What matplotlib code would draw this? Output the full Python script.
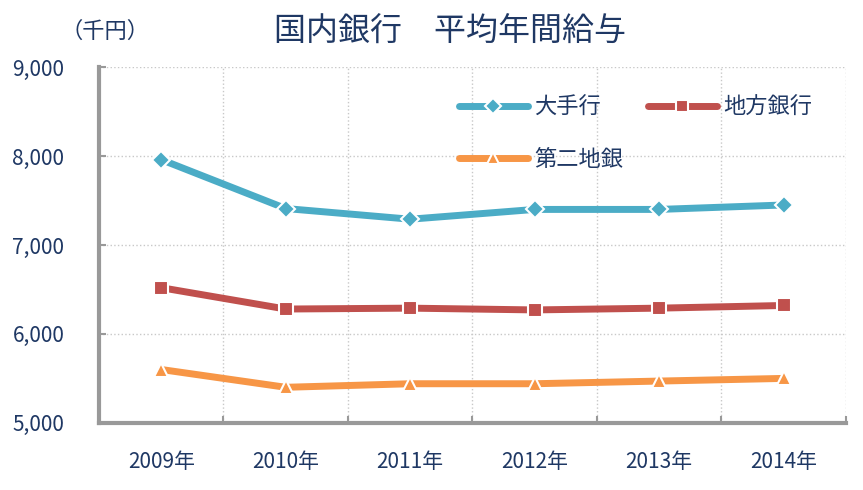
import matplotlib
matplotlib.use('Agg')
import matplotlib.pyplot as plt
import numpy as np

plt.rcParams['font.family'] = ['Noto Sans CJK JP', 'DejaVu Sans']

# データ
years = ['2009年', '2010年', '2011年', '2012年', '2013年', '2014年']
megabank = [7960, 7410, 7290, 7400, 7400, 7450]
regional = [6520, 6280, 6290, 6270, 6290, 6320]
regional2 = [5600, 5400, 5440, 5440, 5470, 5500]

txt = '#1f3864'

fig = plt.figure(figsize=(8.63, 4.9), dpi=100)
ax = fig.add_axes([0.1147, 0.137, 0.8655, 0.726])

x = np.arange(len(years))
l1, = ax.plot(x, megabank, color='#4bacc6', lw=5, marker='D', ms=9,
              mec='white', mew=1.5, label='大手行', solid_capstyle='round')
l2, = ax.plot(x, regional, color='#c0504d', lw=5, marker='s', ms=10,
              mec='white', mew=1.5, label='地方銀行', solid_capstyle='round')
l3, = ax.plot(x, regional2, color='#f79646', lw=5, marker='^', ms=10,
              mec='white', mew=1.5, label='第二地銀', solid_capstyle='round')

ax.set_xlim(-0.5, len(years) - 0.5)
ax.set_ylim(5000, 9000)
ax.set_yticks([5000, 6000, 7000, 8000, 9000])
ax.set_yticklabels(['{:,}'.format(v) for v in [5000, 6000, 7000, 8000, 9000]])
ax.set_xticks(x)
ax.set_xticklabels(years)
ax.set_xticks(np.arange(-0.5, len(years)), minor=True)

ax.grid(axis='y', color='#c8c8c8', ls=':', lw=1)
ax.grid(axis='x', which='minor', color='#c8c8c8', ls=':', lw=1)
ax.tick_params(axis='x', which='major', length=0, pad=20, labelsize=15, labelcolor=txt)
ax.tick_params(axis='x', which='minor', length=5, width=1.5, color='#999999', direction='in')
ax.tick_params(axis='y', length=5, width=1.5, color='#999999', direction='in',
               labelsize=15, labelcolor=txt, pad=25)

for s in ['top', 'right']:
    ax.spines[s].set_visible(False)
for s in ['left', 'bottom']:
    ax.spines[s].set_color('#999999')
    ax.spines[s].set_linewidth(3)

# 凡例の並び: 1行目 大手行・地方銀行、2行目 第二地銀
leg = ax.legend([l1, l3, l2], ['大手行', '第二地銀', '地方銀行'], ncol=2,
                loc='upper left', bbox_to_anchor=(0.455, 0.975), frameon=False,
                fontsize=16, handlelength=3.1, labelspacing=1.3, columnspacing=1.1,
                handletextpad=0.3, markerscale=0.85)
for t in leg.get_texts():
    t.set_color(txt)

fig.text(0.522, 0.935, '国内銀行　平均年間給与', ha='center', va='center',
         fontsize=23, color=txt)
fig.text(0.122, 0.935, '（千円）', ha='center', va='center', fontsize=16, color=txt)

fig.savefig('out.png', dpi=100)
